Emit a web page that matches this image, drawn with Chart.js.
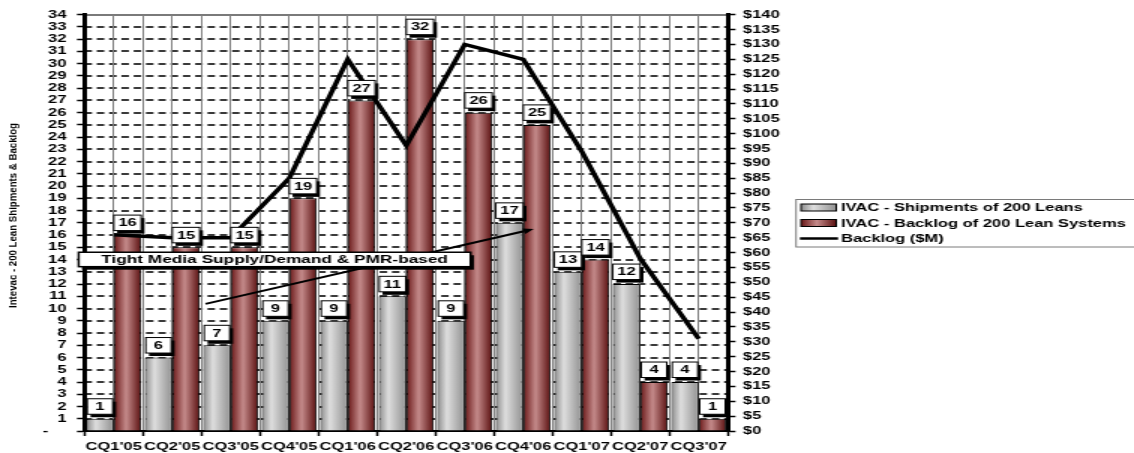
<!DOCTYPE html>
<html>
<head>
<meta charset="utf-8">
<script src="https://cdn.jsdelivr.net/npm/chart.js@4.4.0/dist/chart.umd.min.js"></script>
<style>
html,body{margin:0;padding:0;background:#fff;overflow:hidden;width:1134px;height:453px;}
#wrap{position:absolute;left:0;top:0;width:756px;height:453px;transform:scaleX(1.5);transform-origin:0 0;}
canvas{display:block;}
</style>
</head>
<body>
<div id="wrap"><canvas id="c" width="756" height="453"></canvas></div>
<script>
// ---------- data ----------
const categories = ["CQ1'05","CQ2'05","CQ3'05","CQ4'05","CQ1'06","CQ2'06","CQ3'06","CQ4'06","CQ1'07","CQ2'07","CQ3'07"];
const shipments = [1, 6, 7, 9, 9, 11, 9, 17, 13, 12, 4];
const backlogUnits = [16, 15, 15, 19, 27, 32, 26, 25, 14, 4, 1];
const backlogDollars = [66, 65, 65, 85, 125, 96, 130, 125, 94, 58, 31];
const seriesNames = ["IVAC - Shipments of 200 Leans", "IVAC - Backlog of 200 Lean Systems", "Backlog ($M)"];
const leftAxisMax = 34, leftStep = 1;
const rightAxisMax = 140, rightStep = 5;
const yTitle = "Intevac - 200 Lean Shipments & Backlog";
const noteText = "Tight Media Supply/Demand & PMR-based";
const gridSlots = categories.flatMap(c => [c, c]);

// ---------- styling ----------
const FONT = "'Liberation Sans', Arial, sans-serif";
const CAT_PCT = 0.94;
const grayStops = [[0, '#8c8c8c'], [0.35, '#dedede'], [1, '#909090']];
const redStops = [[0, '#681616'], [0.45, '#c48a8a'], [1, '#5a0f0f']];
// annotation anchors (in axis units: category index / left-axis value)
const noteArrow = { from: [1.57, 10.38], to: [7.18, 16.5] };
const noteBox = { x: [-0.6, 6.1], y: [13.42, 14.6] };

function grad(ctx, l, r, stops) {
  const g = ctx.createLinearGradient(l, 0, r, 0);
  stops.forEach(s => g.addColorStop(s[0], s[1]));
  return g;
}
function barFill(stops, side) {
  return (c) => {
    const chart = c.chart, xs = chart.scales && chart.scales.x;
    if (!xs || !chart.chartArea || c.dataIndex === undefined) return stops[1][1];
    const center = xs.getPixelForValue(c.dataIndex);
    const half = xs.width / categories.length * CAT_PCT / 2;
    const l = side < 0 ? center - half : center;
    return grad(chart.ctx, l, l + half, stops);
  };
}
function shadowBox(ctx, x, y, w, h, lw) {
  ctx.fillStyle = '#000';
  ctx.fillRect(x + 2.2, y + 3, w, h);
  ctx.fillStyle = '#fff';
  ctx.fillRect(x, y, w, h);
  ctx.lineWidth = lw;
  ctx.strokeStyle = '#000';
  ctx.strokeRect(x, y, w, h);
}
function drawHGrid(chart) {
  const ctx = chart.ctx, ys = chart.scales.y, a = chart.chartArea;
  ctx.save();
  for (let v = leftStep; v <= leftAxisMax; v += leftStep) {
    const y = Math.round(ys.getPixelForValue(v));
    ctx.beginPath();
    if (v >= leftAxisMax) { ctx.setLineDash([]); ctx.strokeStyle = '#7a7a7a'; ctx.lineWidth = 2; }
    else { ctx.setLineDash([5, 3.2]); ctx.strokeStyle = '#3a3a3a'; ctx.lineWidth = 2; }
    ctx.moveTo(a.left, y);
    ctx.lineTo(a.right, y);
    ctx.stroke();
  }
  ctx.restore();
}

const decorPlugin = {
  id: 'decor',
  afterDatasetsDraw(chart) {
    const ctx = chart.ctx;
    const xs = chart.scales.x, ys = chart.scales.y;
    // horizontal dashed gridlines, placed behind everything already drawn
    ctx.save();
    ctx.globalCompositeOperation = 'destination-over';
    drawHGrid(chart);
    ctx.restore();

    // data labels
    ctx.save();
    ctx.font = `bold 11px ${FONT}`;
    ctx.textAlign = 'center';
    ctx.textBaseline = 'middle';
    [0, 1].forEach(di => {
      const meta = chart.getDatasetMeta(di);
      const vals = chart.data.datasets[di].data;
      meta.data.forEach((el, i) => {
        const t = String(vals[i]);
        const w = Math.max(ctx.measureText(t).width + 6, 17);
        const h = 15.5;
        const bx = el.x - w / 2, by = el.y - 4.5 - h;
        shadowBox(ctx, bx, by, w, h, 1);
        ctx.fillStyle = '#000';
        ctx.fillText(t, el.x, by + h / 2 + 0.5);
      });
    });
    // arrow
    const x1 = xs.getPixelForValue(noteArrow.from[0]), y1 = ys.getPixelForValue(noteArrow.from[1]);
    const x2 = xs.getPixelForValue(noteArrow.to[0]), y2 = ys.getPixelForValue(noteArrow.to[1]);
    const ang = Math.atan2(y2 - y1, x2 - x1);
    const hl = 7, hw = 3;
    const bxp = x2 - hl * Math.cos(ang), byp = y2 - hl * Math.sin(ang);
    ctx.strokeStyle = '#000';
    ctx.lineWidth = 2;
    ctx.beginPath();
    ctx.moveTo(x1, y1);
    ctx.lineTo(bxp, byp);
    ctx.stroke();
    ctx.fillStyle = '#000';
    ctx.beginPath();
    ctx.moveTo(x2, y2);
    ctx.lineTo(bxp + hw * Math.sin(ang), byp - hw * Math.cos(ang));
    ctx.lineTo(bxp - hw * Math.sin(ang), byp + hw * Math.cos(ang));
    ctx.closePath();
    ctx.fill();
    // note box
    const nl = xs.getPixelForValue(noteBox.x[0]), nr = xs.getPixelForValue(noteBox.x[1]);
    const nt = ys.getPixelForValue(noteBox.y[1]), nb = ys.getPixelForValue(noteBox.y[0]);
    shadowBox(ctx, nl, nt, nr - nl, nb - nt, 1.5);
    ctx.fillStyle = '#000';
    ctx.font = `bold 11.5px ${FONT}`;
    ctx.fillText(noteText, (nl + nr) / 2, (nt + nb) / 2 + 0.5);
    ctx.restore();
  },
  afterDraw(chart) {
    const ctx = chart.ctx;
    // y title
    ctx.save();
    ctx.translate(9.2, 215.5);
    ctx.rotate(-Math.PI / 2);
    ctx.font = `bold 7px ${FONT}`;
    const tw = ctx.measureText(yTitle).width;
    ctx.scale(185 / tw, 1);
    ctx.textAlign = 'center';
    ctx.textBaseline = 'middle';
    ctx.fillStyle = '#000';
    ctx.fillText(yTitle, 0, 0);
    ctx.restore();
    // legend
    ctx.save();
    const lx = 530.7, ly = 199.5, lw = 260, lh = 47.5;
    ctx.fillStyle = '#fff';
    ctx.fillRect(lx, ly, lw, lh);
    ctx.strokeStyle = '#7a7a7a';
    ctx.lineWidth = 1;
    ctx.strokeRect(lx, ly, lw, lh);
    const rows = [207.5, 223, 238.5];
    const sx = 534, sw = 23.5, sh = 7;
    [[grayStops], [redStops]].forEach((s, i) => {
      ctx.fillStyle = grad(ctx, sx, sx + sw, s[0]);
      ctx.fillRect(sx, rows[i] - sh / 2, sw, sh);
      ctx.strokeStyle = '#000';
      ctx.lineWidth = 1;
      ctx.strokeRect(sx, rows[i] - sh / 2, sw, sh);
    });
    ctx.strokeStyle = '#000';
    ctx.lineWidth = 2.5;
    ctx.beginPath();
    ctx.moveTo(533.3, rows[2]);
    ctx.lineTo(558.7, rows[2]);
    ctx.stroke();
    ctx.font = `bold 11px ${FONT}`;
    ctx.textAlign = 'left';
    ctx.textBaseline = 'middle';
    ctx.fillStyle = '#000';
    seriesNames.forEach((n, i) => ctx.fillText(n, 560.7, rows[i] + 0.5));
    ctx.restore();
  }
};

const tickFont = { family: FONT, weight: 'bold', size: 11 };

new Chart(document.getElementById('c'), {
  type: 'bar',
  data: {
    labels: categories,
    datasets: [
      { type: 'bar', label: seriesNames[0], data: shipments, order: 1,
        backgroundColor: barFill(grayStops, -1), borderColor: '#000', borderWidth: 1,
        categoryPercentage: CAT_PCT, barPercentage: 1, xAxisID: 'x', yAxisID: 'y' },
      { type: 'bar', label: seriesNames[1], data: backlogUnits, order: 2,
        backgroundColor: barFill(redStops, 1), borderColor: '#000', borderWidth: 1,
        categoryPercentage: CAT_PCT, barPercentage: 1, xAxisID: 'x', yAxisID: 'y' },
      { type: 'line', label: seriesNames[2], data: backlogDollars, order: 0,
        borderColor: '#000', borderWidth: 3.5, pointRadius: 0, tension: 0,
        borderJoinStyle: 'miter', fill: false, xAxisID: 'x', yAxisID: 'y2' }
    ]
  },
  options: {
    responsive: false,
    devicePixelRatio: 1,
    animation: false,
    events: [],
    layout: { padding: { top: 14.7, left: 0, right: 225.67, bottom: 0 } },
    plugins: { legend: { display: false }, tooltip: { enabled: false } },
    scales: {
      x: {
        type: 'category', position: 'bottom', offset: true,
        grid: { display: true, drawOnChartArea: false, drawTicks: true, tickLength: 5, offset: true, tickColor: '#000', tickWidth: 1.5 },
        border: { display: true, color: '#000', width: 2 },
        ticks: { color: '#000', font: tickFont, padding: 4, autoSkip: false, maxRotation: 0, minRotation: 0 },
        afterFit: s => { s.height = 22; }
      },
      x2: {
        type: 'category', position: 'top', labels: gridSlots, offset: true,
        grid: { display: true, offset: true, color: '#808080', lineWidth: 1, drawTicks: false },
        border: { display: false },
        ticks: { display: false },
        afterFit: s => { s.height = 0; }
      },
      y: {
        position: 'left', min: 0, max: leftAxisMax,
        ticks: { stepSize: leftStep, autoSkip: false, color: '#000', font: tickFont, padding: 7,
          callback: v => v === 0 ? '-    ' : String(v) },
        grid: { display: true, drawOnChartArea: false, drawTicks: true, tickLength: 5, tickColor: '#000', tickWidth: 1.5 },
        border: { display: true, color: '#000', width: 3 },
        afterFit: s => { s.width = 56.33; }
      },
      y2: {
        position: 'right', min: 0, max: rightAxisMax,
        ticks: { stepSize: rightStep, autoSkip: false, color: '#000', font: tickFont, padding: 5,
          callback: v => '$' + v },
        grid: { drawOnChartArea: false, drawTicks: true, tickLength: 5, tickColor: '#000', tickWidth: 1.5 },
        border: { display: true, color: '#000', width: 3 },
        afterFit: s => { s.width = 45; }
      }
    }
  },
  plugins: [decorPlugin]
});
</script>
</body>
</html>
